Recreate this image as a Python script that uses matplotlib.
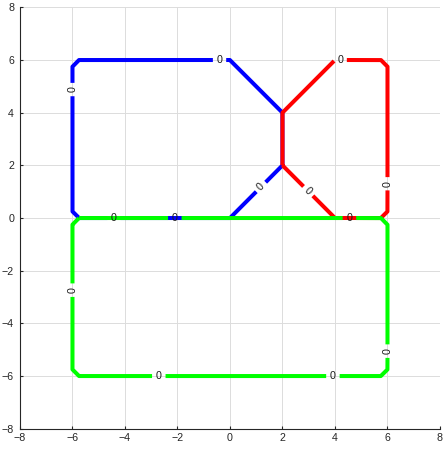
import numpy as np
import matplotlib
matplotlib.use("Agg")
import matplotlib.pyplot as plt

# zero-level contour outlines (vertices) of the three regions
blue_path = [(0, 0), (2, 2), (2, 4), (0, 6), (-5.75, 6), (-6, 5.75), (-6, 0.25), (-5.75, 0), (0, 0)]
red_path = [(2, 2), (2, 4), (4, 6), (5.75, 6), (6, 5.75), (6, 0.25), (5.75, 0), (4, 0), (2, 2)]
green_path = [(-5.75, 0), (5.75, 0), (6, -0.25), (6, -5.75), (5.75, -6), (-5.75, -6), (-6, -5.75), (-6, -0.25), (-5.75, 0)]

# where the "0" labels sit on each outline
blue_labels = [(-0.4, 6), (-6, 4.88), (-4.42, 0), (1.18, 1.18)]
red_labels = [(4.2, 6), (6, 1.3), (2.98, 1.02)]
green_labels = [(-2.1, 0), (4.55, 0), (-6, -2.74), (6, -5.05), (-2.71, -6), (3.92, -6)]

level_text = "0"
ticks = list(range(-8, 9, 2))

plt.rcParams['font.family'] = ['Liberation Sans', 'DejaVu Sans']

GAP = 0.5


def dense(path, n=4000):
    p = np.array(path, dtype=float)
    seg = np.hypot(np.diff(p[:, 0]), np.diff(p[:, 1]))
    s = np.concatenate([[0], np.cumsum(seg)])
    t = np.linspace(0, s[-1], n)
    return t, np.interp(t, s, p[:, 0]), np.interp(t, s, p[:, 1])


def draw_contour(ax, path, labels, color, z):
    t, x, y = dense(path)
    x = x.copy()
    y = y.copy()
    mask = np.zeros_like(t, dtype=bool)
    for lx, ly in labels:
        i = np.argmin(np.hypot(x - lx, y - ly))
        mask |= np.abs(t - t[i]) < GAP / 2
        j0, j1 = max(i - 5, 0), min(i + 5, len(t) - 1)
        ang = np.degrees(np.arctan2(y[j1] - y[j0], x[j1] - x[j0]))
        if ang > 90:
            ang -= 180
        elif ang <= -90:
            ang += 180
        ax.text(x[i], y[i], level_text, fontsize=7.7, color="#1a1a1a", rotation=ang,
                rotation_mode="anchor", ha="center", va="center", zorder=10)
    x[mask] = np.nan
    y[mask] = np.nan
    ax.plot(x, y, color=color, lw=2.9, solid_joinstyle="round", solid_capstyle="butt", zorder=z)


fig = plt.figure(figsize=(4.43, 4.53), dpi=100)
ax = fig.add_axes([0.0451, 0.0536, 0.9481, 0.9302])

draw_contour(ax, blue_path, blue_labels, (0, 0, 1), 3)
draw_contour(ax, red_path, red_labels, (1, 0, 0), 4)
draw_contour(ax, green_path, green_labels, (0, 1, 0), 5)

ax.set_xlim(-8, 8)
ax.set_ylim(-8, 8)
ax.set_xticks(ticks)
ax.set_yticks(ticks)
ax.grid(True, color="#dcdcdc", lw=0.7)
ax.set_axisbelow(True)
for s in ["top", "right"]:
    ax.spines[s].set_visible(False)
for s in ["left", "bottom"]:
    ax.spines[s].set_color("#262626")
    ax.spines[s].set_linewidth(0.8)
ax.tick_params(direction="in", length=2.5, width=0.8, colors="#262626", labelsize=7.7)
ax.tick_params(axis="y", pad=4.3)
ax.tick_params(axis="x", pad=3)

fig.savefig("out.png", dpi=100)
